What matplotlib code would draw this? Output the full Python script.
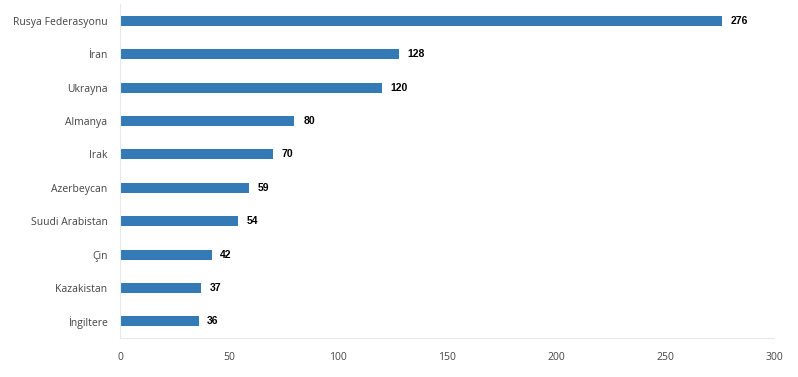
import matplotlib.pyplot as plt

countries = ["Rusya Federasyonu", "İran", "Ukrayna", "Almanya", "Irak",
             "Azerbeycan", "Suudi Arabistan", "Çin", "Kazakistan", "İngiltere"]
values = [276, 128, 120, 80, 70, 59, 54, 42, 37, 36]

fig = plt.figure(figsize=(7.98, 3.77), dpi=100)
ax = fig.add_axes([0.1504, 0.1034, 0.8196, 0.8852])

ypos = list(range(len(countries)))[::-1]
ax.barh(ypos, values, height=0.3, color="#337ab7")
for y, v in zip(ypos, values):
    ax.text(v + 4, y, str(v), va="center", ha="left", fontsize=7.5,
            fontweight="bold", family="Liberation Sans", color="black")

ax.set_yticks(ypos)
ax.set_yticklabels(countries, family="Open Sans", fontsize=7.5, color="#444444")
ax.set_ylim(-0.5, len(countries) - 0.5)
ax.set_xlim(0, 300)
ax.set_xticks([0, 50, 100, 150, 200, 250, 300])
ax.tick_params(axis="x", length=0, pad=10, labelsize=7.5, labelcolor="#444444")
ax.tick_params(axis="y", length=0, pad=9)
for lab in ax.get_xticklabels():
    lab.set_family("Open Sans")
for s in ["top", "right"]:
    ax.spines[s].set_visible(False)
ax.spines["left"].set_color("#e8e8e8")
ax.spines["bottom"].set_color("#e8e8e8")

fig.savefig("out.png", dpi=100)
